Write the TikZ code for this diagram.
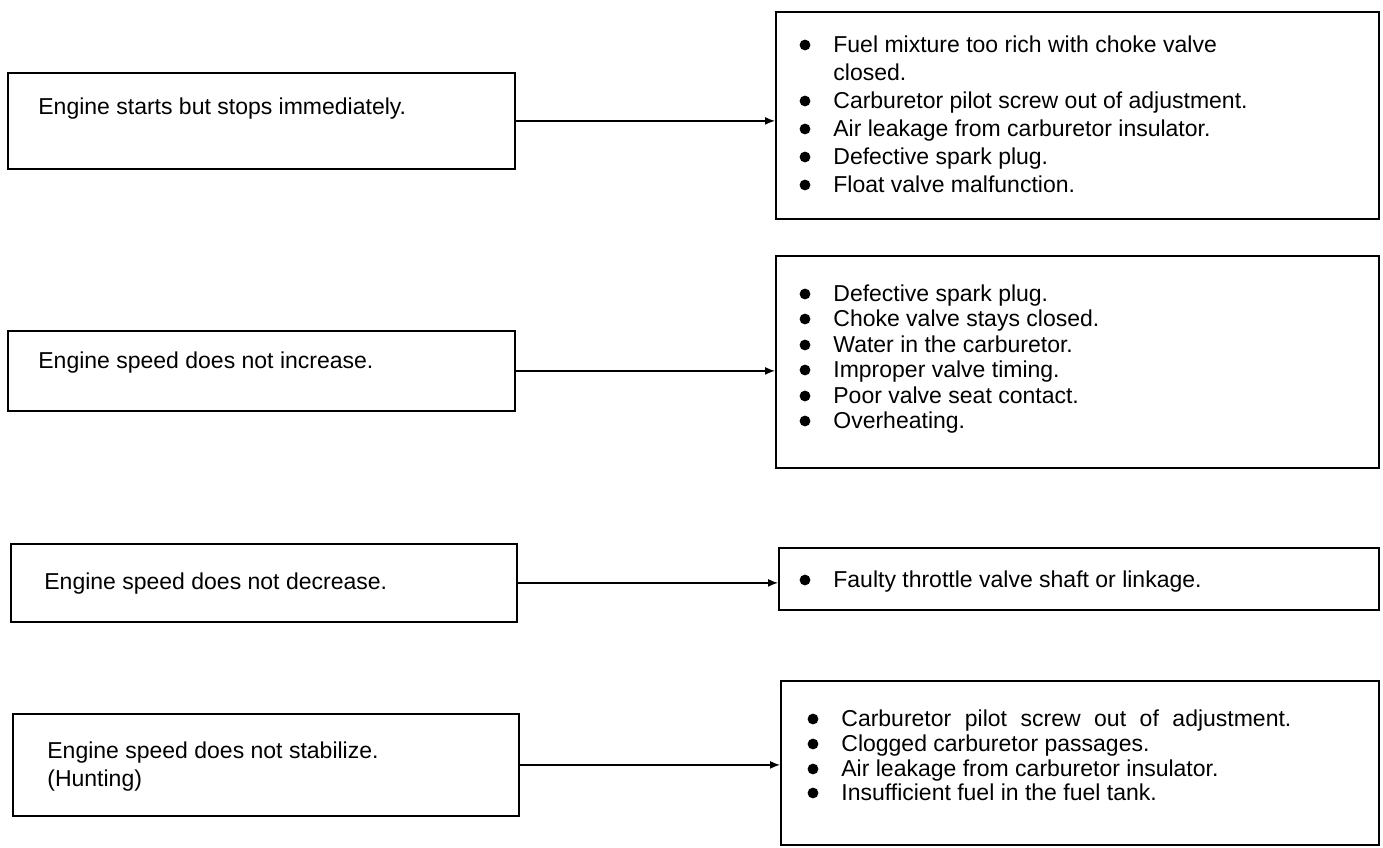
\documentclass[tikz,border=0pt]{standalone}
\usepackage{fontspec}
\setmainfont{Liberation Sans}
\usetikzlibrary{arrows.meta}
\newcommand\bitem[4]{%
  \fill (#1,#2) ++(0,-7) circle (2.7pt);
  \node[txt] (#3) at ({#1+28},#2) {#4};}
\begin{document}
\begin{tikzpicture}[x=0.5pt,y=-0.5pt,
  box/.style={draw, line width=0.9pt, inner sep=0pt, anchor=north west},
  txt/.style={font=\fontsize{11.5pt}{14pt}\selectfont, inner sep=0pt, anchor=base west},
  arr/.style={line width=0.7pt, -{Latex[length=5pt,width=4pt]}}]
\useasboundingbox (0,0) rectangle (1383,847);
% left boxes
\node[box, minimum width=253.5pt, minimum height=48pt] (l1) at (7,72) {};
\node[box, minimum width=253.5pt, minimum height=40pt] (l2) at (7,330) {};
\node[box, minimum width=253pt, minimum height=39pt] (l3) at (10,543) {};
\node[box, minimum width=253pt, minimum height=51pt] (l4) at (12,713) {};
% right boxes
\node[box, minimum width=301.5pt, minimum height=103.5pt] (r1) at (775,11) {};
\node[box, minimum width=301.5pt, minimum height=106pt] (r2) at (775,255) {};
\node[box, minimum width=300pt, minimum height=31pt] (r3) at (778,547) {};
\node[box, minimum width=299pt, minimum height=82pt] (r4) at (780,680) {};
% left texts
\node[txt] (t1) at (38,114) {Engine starts but stops immediately.};
\node[txt] (t2) at (38,368) {Engine speed does not increase.};
\node[txt] (t3) at (44,589) {Engine speed does not decrease.};
\node[txt] (t4a) at (47,758) {Engine speed does not stabilize.};
\node[txt] (t4b) at (47,786) {(Hunting)};
% right texts
\bitem{805}{52}{a1}{Fuel mixture too rich with choke valve}
\node[txt] (a1b) at (833,80) {closed.};
\bitem{805}{108}{a2}{Carburetor pilot screw out of adjustment.}
\bitem{805}{136}{a3}{Air leakage from carburetor insulator.}
\bitem{805}{164}{a4}{Defective spark plug.}
\bitem{805}{192}{a5}{Float valve malfunction.}
\bitem{805}{301}{b1}{Defective spark plug.}
\bitem{805}{326}{b2}{Choke valve stays closed.}
\bitem{805}{352}{b3}{Water in the carburetor.}
\bitem{805}{377}{b4}{Improper valve timing.}
\bitem{805}{403}{b5}{Poor valve seat contact.}
\bitem{805}{428}{b6}{Overheating.}
\bitem{805}{587}{c1}{Faulty throttle valve shaft or linkage.}
\bitem{813}{726}{d1}{\makebox[225pt][s]{Carburetor pilot screw out of adjustment.}}
\bitem{813}{751}{d2}{Clogged carburetor passages.}
\bitem{813}{776}{d3}{Air leakage from carburetor insulator.}
\bitem{813}{800}{d4}{Insufficient fuel in the fuel tank.}
% connectors
\draw[arr] (l1.east) -- (l1.east -| r1.west);
\draw[arr] (l2.east) -- (l2.east -| r2.west);
\draw[arr] (l3.east) -- (l3.east -| r3.west);
\draw[arr] (l4.east) -- (l4.east -| r4.west);
\end{tikzpicture}
\end{document}
